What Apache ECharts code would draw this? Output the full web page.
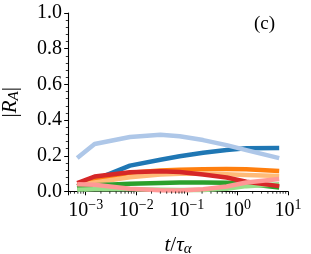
<!DOCTYPE html>
<html>
<head>
<meta charset="utf-8">
<script src="https://cdn.jsdelivr.net/npm/echarts@6/dist/echarts.min.js"></script>
<style>html,body{margin:0;padding:0;background:#fff}#c{width:311px;height:254px}</style>
</head>
<body>
<div id="c"></div>
<script>
// t / tau_alpha sample times (shared by all series)
var tValues = [0.00068, 0.0015, 0.0075, 0.03, 0.072, 0.21, 0.61, 1.5, 6.7];
var seriesNames = ['s1', 's2', 's3', 's4', 's5', 's6', 's7', 's8'];
var darkBlue   = [0.030, 0.065, 0.145, 0.178, 0.197, 0.217, 0.232, 0.242, 0.243];
var lightBlue  = [0.187, 0.266, 0.305, 0.318, 0.309, 0.288, 0.260, 0.232, 0.187];
var orange     = [0.030, 0.060, 0.105, 0.118, 0.122, 0.125, 0.126, 0.125, 0.115];
var peach      = [0.035, 0.050, 0.080, 0.095, 0.100, 0.100, 0.097, 0.093, 0.087];
var green      = [0.018, 0.035, 0.043, 0.048, 0.050, 0.050, 0.049, 0.043, 0.022];
var lightGreen = [0.010, 0.012, 0.012, 0.010, 0.008, 0.008, 0.015, 0.030, 0.040];
var red        = [0.047, 0.084, 0.108, 0.114, 0.109, 0.095, 0.078, 0.055, 0.030];
var pink       = [0.040, 0.038, 0.015, 0.007, 0.006, 0.012, 0.028, 0.050, 0.070];
var yTickLabels = ['0.0', '0.2', '0.4', '0.6', '0.8', '1.0'];
var xMinorTicks = [5e-4, 6e-4, 7e-4, 8e-4, 9e-4,
  2e-3, 3e-3, 4e-3, 5e-3, 6e-3, 7e-3, 8e-3, 9e-3,
  2e-2, 3e-2, 4e-2, 5e-2, 6e-2, 7e-2, 8e-2, 9e-2,
  0.2, 0.3, 0.4, 0.5, 0.6, 0.7, 0.8, 0.9,
  2, 3, 4, 5, 6, 7, 8, 9];

var allSeries = [darkBlue, lightBlue, orange, peach, green, lightGreen, red, pink];
var colors = ['#1f77b4', '#aec7e8', '#ff7f0e', '#ffbb78', '#2ca02c', '#98df8a', '#d62728', '#ff9896'];

var chart = echarts.init(document.getElementById('c'), null, {renderer: 'canvas'});
var FONT = 'Liberation Serif';

function pair(vals) { return tValues.map(function (t, i) { return [t, vals[i]]; }); }

var series = allSeries.map(function (vals, k) {
  return {
    name: seriesNames[k], type: 'line', data: pair(vals), showSymbol: false, symbol: 'none',
    lineStyle: {color: colors[k], width: 4.5, cap: 'butt', join: 'round'},
    z: 2 + k, animation: false, clip: false
  };
});
series.push({
  type: 'custom', silent: true, animation: false, clip: false, z: 20,
  data: xMinorTicks.map(function (v) { return [v, 0]; }),
  renderItem: function (params, api) {
    var p = api.coord([api.value(0), 0]);
    return {type: 'line', shape: {x1: p[0], y1: p[1], x2: p[0], y2: p[1] + 2.2},
      style: {stroke: '#000', lineWidth: 0.8}};
  }
});

chart.setOption({
  animation: false,
  grid: {left: 68, right: 23, top: 13, bottom: 62.5, containLabel: false, outerBoundsMode: 'none'},
  xAxis: {
    type: 'log', min: 0.000447, max: 10, logBase: 10,
    axisLine: {show: true, lineStyle: {color: '#000', width: 1.1}},
    axisTick: {show: true, inside: false, length: 3.8, lineStyle: {color: '#000', width: 1}},
    splitLine: {show: false},
    axisLabel: {
      margin: 7, color: '#000',
      formatter: function (v) {
        var e = Math.log10(v);
        var r = Math.round(e);
        if (Math.abs(e - r) > 1e-6) return '';
        var s = r < 0 ? '\u2212' + (-r) : '' + r;
        return '{b|10}{s|' + s + '}';
      },
      rich: {
        b: {fontFamily: FONT, fontSize: 20, color: '#000'},
        s: {fontFamily: FONT, fontSize: 14, color: '#000', padding: [0, 0, 10, 0]}
      }
    },
    name: '{i|t}{n|/}{i|\u03c4}{sub|\u03b1}',
    nameLocation: 'middle', nameGap: 42,
    nameTextStyle: {
      rich: {
        i: {fontFamily: FONT, fontStyle: 'italic', fontSize: 21, color: '#000'},
        n: {fontFamily: FONT, fontSize: 21, color: '#000'},
        sub: {fontFamily: FONT, fontStyle: 'italic', fontSize: 15, color: '#000', padding: [8, 0, 0, 0]}
      }
    }
  },
  yAxis: {
    type: 'value', min: 0, max: 1, interval: 0.2,
    axisLine: {show: true, lineStyle: {color: '#000', width: 1.1}},
    axisTick: {show: true, inside: false, length: 3.8, lineStyle: {color: '#000', width: 1}},
    minorTick: {show: true, splitNumber: 5, length: 2.2, lineStyle: {color: '#000', width: 0.8}},
    splitLine: {show: false},
    axisLabel: {
      margin: 6, color: '#000', fontFamily: FONT, fontSize: 20,
      formatter: function (v) { return yTickLabels[Math.round(v / 0.2)]; }
    },
    name: '{n||}{i|R}{sub|A}{n||}',
    nameLocation: 'middle', nameRotate: 90, nameGap: 46,
    nameTextStyle: {
      rich: {
        i: {fontFamily: FONT, fontStyle: 'italic', fontSize: 21, color: '#000'},
        n: {fontFamily: FONT, fontSize: 21, color: '#000'},
        sub: {fontFamily: FONT, fontStyle: 'italic', fontSize: 15, color: '#000', padding: [8, 0, 0, 0]}
      }
    }
  },
  graphic: [{
    type: 'text', left: 254, top: 15,
    style: {text: '(c)', font: '19px "Liberation Serif"', fill: '#000'}
  }],
  series: series
});
</script>
</body>
</html>
